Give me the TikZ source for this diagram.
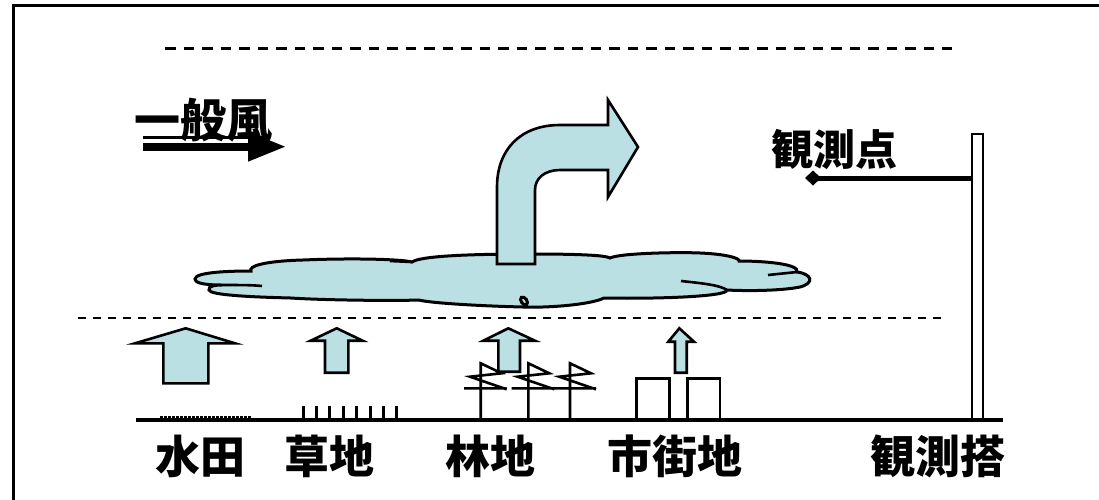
\documentclass[tikz,border=0pt]{standalone}
\usepackage{fontspec}
\newfontfamily\jpfont{Noto Sans CJK JP}
\begin{document}
\begin{tikzpicture}[x=1pt,y=-1pt,
  line join=miter,
  blockarrow/.style={draw=black,line width=2.6pt,fill=sky},
  landlabel/.style={font=\jpfont\bfseries\fontsize{45}{50}\selectfont,inner sep=0pt},
  smalllabel/.style={font=\jpfont\bfseries\fontsize{42}{46}\selectfont,inner sep=0pt},
  tree/.style={line width=2.6pt},
  fold/.style={line width=2.6pt}]
\definecolor{sky}{RGB}{187,224,227}
\useasboundingbox (0,0) rectangle (1099,499);

% frame: left and top edges
\draw[line width=3pt] (13,510) -- (13,5) -- (1110,5);

% layer boundaries
\draw[line width=3pt,dash pattern=on 10.5pt off 8pt] (165,48) -- (952,48);
\draw[line width=2.6pt,dash pattern=on 8pt off 7pt] (78,318) -- (942,318);

% general wind
\node[smalllabel,font=\jpfont\bfseries\fontsize{46}{50}\selectfont] (wind) at (203,120) {一般風};
\draw[line width=3pt] (143,137.5) -- (267,137.5);
\draw[line width=8pt] (143,147) -- (252,147);
\fill (248,131.5) -- (285,146.7) -- (248,161.7) -- cycle;

% cloud layer
\draw[line width=3pt,fill=sky]
  (195,279) .. controls (195,272) and (230,271) .. (251,271)
  .. controls (248,266) and (265,261) .. (303,260)
  .. controls (350,258) and (400,259) .. (412,262)
  .. controls (420,256) and (470,254) .. (530,254)
  .. controls (575,254) and (605,255) .. (610,258)
  .. controls (620,253) and (680,252) .. (700,253)
  .. controls (725,254) and (740,258) .. (739,261)
  .. controls (765,261) and (800,264) .. (797,272)
  .. controls (812,274) and (815,283) .. (800,287)
  .. controls (780,291) and (745,291) .. (727,290)
  .. controls (728,297) and (650,299) .. (604,298)
  .. controls (590,305) and (545,308) .. (523,307)
  .. controls (480,306) and (430,303) .. (419,300)
  .. controls (390,301) and (320,300) .. (291,298)
  .. controls (250,297) and (210,295) .. (209,290)
  .. controls (208,286) and (215,285) .. (222,285)
  .. controls (200,285) and (195,282) .. (195,279) -- cycle;
% folds inside the cloud
\draw[fold] (222,285) .. controls (240,285) and (252,285) .. (262,286);
\draw[fold] (390,261) -- (412,262);
\draw[fold] (681,281) .. controls (700,283) and (720,285) .. (727,290);
\draw[fold] (768,275) -- (797,272);
\draw[line width=3pt] (524,301) ellipse [x radius=2.8pt, y radius=4.5pt, rotate=35];

% rising and turning flow
\draw[blockarrow]
  (497,264) -- (497,187) .. controls (497,150) and (520,125) .. (560,125)
  -- (608,125) -- (608,100) -- (638,147) -- (608,197) -- (608,170)
  -- (560,170) .. controls (545,170) and (535,178) .. (535,190)
  -- (535,264) -- cycle;

% ground
\draw[line width=3.5pt] (136,420) -- (1003,420);

% paddy field
\draw[line width=2pt,dash pattern=on 2.5pt off 1.5pt] (160,417) -- (252,417);
% grassland
\foreach \i in {0,...,7}
  \draw[line width=3pt] (303+13.4*\i,420) -- (303+13.4*\i,406);
% forest
\foreach \t in {480.7,528.3,570}
  \draw[tree] (\t,420) -- (\t,363.3) -- (\t+21,373.3) -- (\t-10.7,376.7) -- (\t+26,389.3)
              (\t-16.7,388.3) -- (\t+26,388.3);
% town
\draw[line width=2.6pt] (636.7,420) -- (636.7,378.3) -- (669.3,378.3) -- (669.3,420);
\draw[line width=2.6pt] (687.3,420) -- (687.3,378.3) -- (720,378.3) -- (720,420);

% surface heat flux arrows
\draw[blockarrow] (185.7,328.3) -- (235,343.3) -- (208.3,343.3) -- (208.3,383.3)
  -- (163.3,383.3) -- (163.3,343.3) -- (135,343.3) -- cycle;
\draw[blockarrow] (336.7,328.3) -- (362.7,340.7) -- (348.3,340.7) -- (348.3,372.7)
  -- (325,372.7) -- (325,340.7) -- (310.7,340.7) -- cycle;
\draw[blockarrow] (508.3,328.3) -- (535,340.7) -- (520,340.7) -- (520,371.7)
  -- (498.3,371.7) -- (498.3,340.7) -- (483.3,340.7) -- cycle;
\draw[blockarrow] (679.3,328.3) -- (694,341.7) -- (686.7,341.7) -- (686.7,372.7)
  -- (675,372.7) -- (675,341.7) -- (668.3,341.7) -- cycle;

% observation tower
\node[draw=black,line width=2.2pt,fill=white,minimum width=11pt,minimum height=285pt,
  inner sep=0pt,anchor=south] (tower) at (977.5,420) {};
\coordinate (obs) at (813,178);
\draw[line width=5pt] (tower.west |- obs) -- (obs);
\fill (obs) ++(-8,0) -- ++(8,-7.5) -- ++(8,7.5) -- ++(-8,7.5) -- cycle;
\node[smalllabel] (obslabel) at (834,150) {観測点};

% land-use labels
\node[landlabel] (paddy)  at (200,456) {水田};
\node[landlabel] (grass)  at (329,456) {草地};
\node[landlabel] (forest) at (490,456) {林地};
\node[landlabel] (town)   at (675,456) {市街地};
\node[landlabel] (towerlabel) at (938,456) {観測搭};
\end{tikzpicture}
\end{document}
